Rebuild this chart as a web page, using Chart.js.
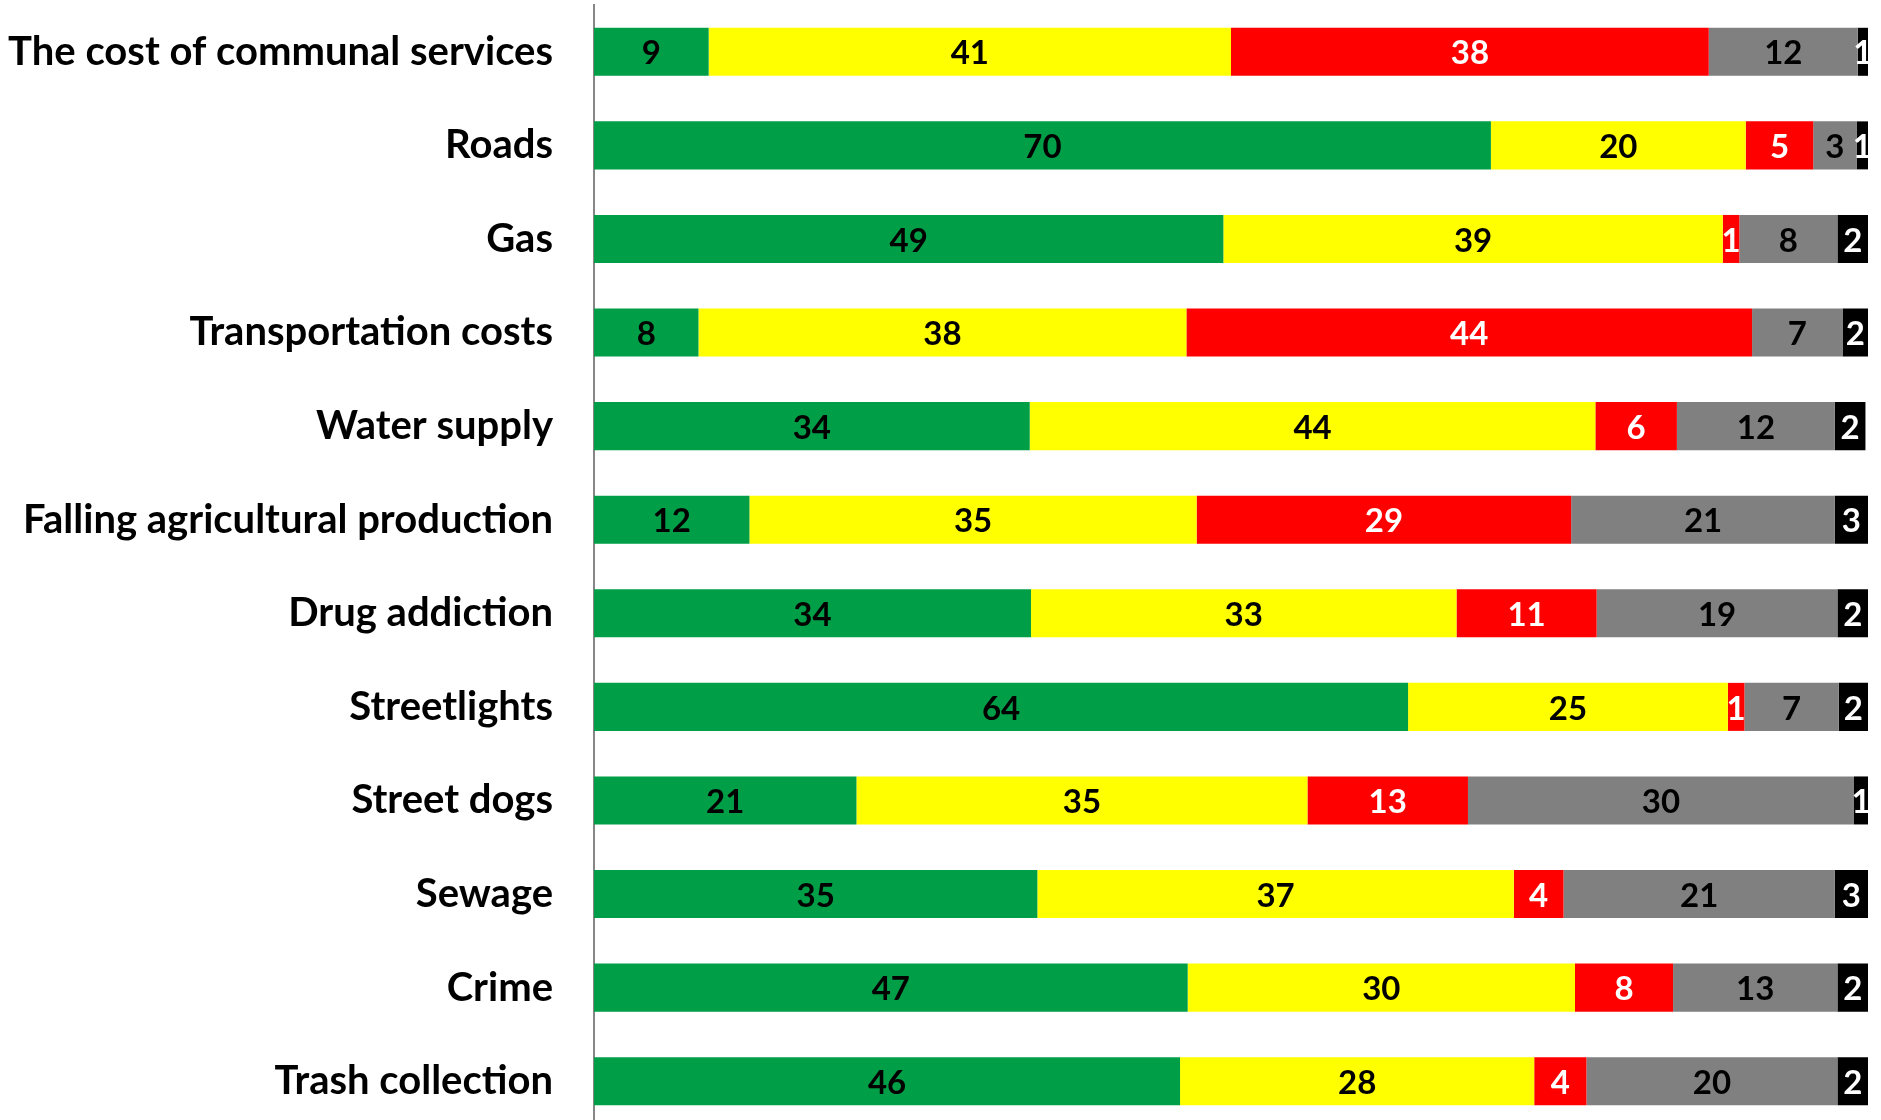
<!DOCTYPE html>
<html>
<head>
<meta charset="utf-8">
<script src="https://cdn.jsdelivr.net/npm/chart.js@4.4.1/dist/chart.umd.min.js"></script>
<style>
  html, body { margin: 0; padding: 0; background: #fff; overflow: hidden; }
  #wrap { width: 1881px; height: 1130px; position: relative; }
</style>
</head>
<body>
<div id="wrap"><canvas id="c"></canvas></div>
<script>
const categories = [
  "The cost of communal services",
  "Roads",
  "Gas",
  "Transportation costs",
  "Water supply",
  "Falling agricultural production",
  "Drug addiction",
  "Streetlights",
  "Street dogs",
  "Sewage",
  "Crime",
  "Trash collection"
];
const seriesGreen  = [9.0, 70.4, 49.4, 8.2, 34.2, 12.2, 34.3, 63.9, 20.6, 34.8, 46.6, 46.0];
const seriesYellow = [41.0, 20.0, 39.2, 38.3, 44.4, 35.1, 33.4, 25.1, 35.4, 37.4, 30.4, 27.8];
const seriesRed    = [37.5, 5.3, 1.3, 44.4, 6.4, 29.4, 11.0, 1.3, 12.6, 3.9, 7.7, 4.1];
const seriesGrey   = [11.7, 3.4, 7.7, 7.1, 12.4, 20.7, 18.9, 7.4, 30.3, 21.3, 12.9, 19.7];
const seriesBlack  = [0.8, 0.9, 2.4, 2.0, 2.4, 2.6, 2.4, 2.3, 1.1, 2.6, 2.4, 2.4];

const FONT = "Lato, 'Open Sans', sans-serif";

const labelPlugin = {
  id: 'segLabels',
  afterDatasetsDraw(chart) {
    const ctx = chart.ctx;
    ctx.save();
    ctx.font = "bold 33px " + FONT;
    ctx.textAlign = 'center';
    ctx.textBaseline = 'middle';
    chart.data.datasets.forEach((ds, di) => {
      const meta = chart.getDatasetMeta(di);
      meta.data.forEach((el, i) => {
        const v = ds.data[i];
        const cx = (el.x + el.base) / 2;
        ctx.fillStyle = ds.labelColor;
        ctx.fillText(String(Math.round(v)), cx, el.y + 2);
      });
    });
    ctx.restore();
  }
};

const mk = (label, data, color, labelColor) => ({
  label, data, backgroundColor: color, labelColor,
  borderWidth: 0, barPercentage: 1.0, categoryPercentage: 0.513
});

new Chart(document.getElementById('c'), {
  type: 'bar',
  data: {
    labels: categories,
    datasets: [
      mk('Green', seriesGreen, '#009E47', '#000000'),
      mk('Yellow', seriesYellow, '#FFFF00', '#000000'),
      mk('Red', seriesRed, '#FF0000', '#FFFFFF'),
      mk('Grey', seriesGrey, '#808080', '#000000'),
      mk('Black', seriesBlack, '#000000', '#FFFFFF')
    ]
  },
  options: {
    indexAxis: 'y',
    responsive: true,
    maintainAspectRatio: false,
    animation: false,
    layout: { padding: { top: 5, right: 13, bottom: 2, left: 0 } },
    plugins: { legend: { display: false }, tooltip: { enabled: false } },
    scales: {
      x: { stacked: true, min: 0, max: 100, display: false },
      y: {
        stacked: true,
        grid: { display: false, drawTicks: false },
        border: { display: true, color: '#868686', width: 2 },
        ticks: {
          color: '#000',
          padding: 41,
          font: { family: FONT, size: 40, weight: 'bold' }
        },
        afterFit(scale) {
          scale.width = 594;
          scale.paddingTop = 0;
          scale.paddingBottom = 0;
        }
      }
    }
  },
  plugins: [labelPlugin]
});
</script>
</body>
</html>
